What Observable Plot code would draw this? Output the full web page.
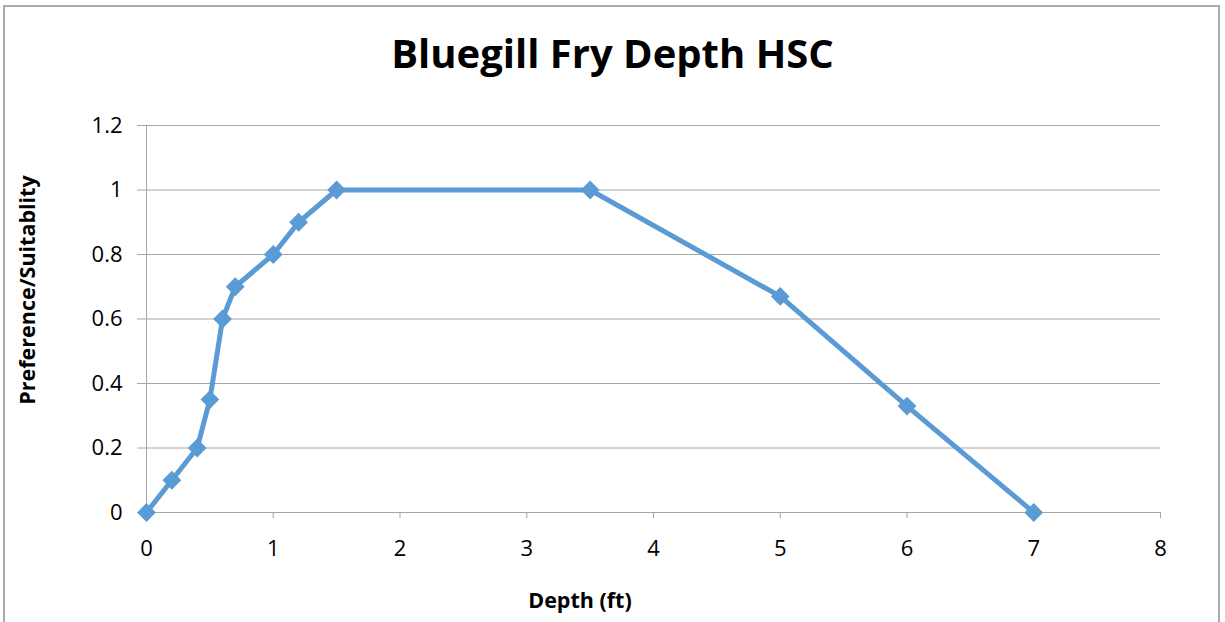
<!DOCTYPE html>
<html>
<head>
<meta charset="utf-8">
<script src="https://cdn.jsdelivr.net/npm/d3@7"></script>
<script src="https://cdn.jsdelivr.net/npm/@observablehq/plot@0.6"></script>
<style>
  body { margin: 0; background: #fff; }
  #wrap { position: relative; width: 1225px; height: 622px; overflow: hidden; font-family: "Open Sans", sans-serif; }
  #frame { position: absolute; left: 3px; top: 5px; width: 1217px; height: 640px; border: 2px solid #ababab; box-sizing: border-box; }
  #title { position: absolute; left: 0; width: 1225px; top: 25px; text-align: center; font-weight: bold; font-size: 40px; color: #000; }
  #xlab { position: absolute; left: 430px; width: 300px; top: 585px; text-align: center; font-weight: bold; font-size: 21.5px; }
  #ylab { position: absolute; left: 26px; top: 290px; transform: translate(-50%, -50%) rotate(-90deg); white-space: nowrap; font-weight: bold; font-size: 21.5px; }
  svg { position: absolute; left: 0; top: 0; }
</style>
</head>
<body>
<div id="wrap">
  <div id="frame"></div>
  <div id="title">Bluegill Fry Depth HSC</div>
  <div id="xlab">Depth (ft)</div>
  <div id="ylab">Preference/Suitablity</div>
</div>
<script>
const depth = [0, 0.2, 0.4, 0.5, 0.6, 0.7, 1, 1.2, 1.5, 3.5, 5, 6, 7];
const suitability = [0, 0.1, 0.2, 0.35, 0.6, 0.7, 0.8, 0.9, 1, 1, 0.67, 0.33, 0];
const xTicks = [0, 1, 2, 3, 4, 5, 6, 7, 8];
const yTicks = [0, 0.2, 0.4, 0.6, 0.8, 1, 1.2];

const data = depth.map((d, i) => ({depth: d, value: suitability[i]}));
const color = "#5b9bd5";
const grid = "#a6a6a6";

const chart = Plot.plot({
  width: 1225,
  height: 622,
  marginLeft: 146,
  marginRight: 65,
  marginTop: 125,
  marginBottom: 110,
  style: {fontFamily: "'Open Sans', sans-serif", fontSize: "22px", color: "#000", background: "transparent"},
  x: {domain: [0, 8]},
  y: {domain: [0, 1.2]},
  marks: [
    Plot.gridY(yTicks, {stroke: grid, strokeOpacity: 1, strokeWidth: 1}),
    Plot.axisY(yTicks, {tickSize: 9, stroke: grid, tickPadding: 15, label: null, tickFormat: d => String(d), fill: "#000", fontSize: 22}),
    Plot.axisX(xTicks, {tickSize: 6, stroke: grid, tickPadding: 22, label: null, tickFormat: d => String(d), fill: "#000", fontSize: 22}),
    Plot.ruleX([0], {stroke: grid, strokeWidth: 1}),
    Plot.ruleY([0], {stroke: grid, strokeWidth: 1}),
    Plot.line(data, {x: "depth", y: "value", stroke: color, strokeWidth: 5, strokeLinejoin: "round"}),
    Plot.dot(data, {x: "depth", y: "value", symbol: "square", r: 7.5, rotate: 45, fill: color, stroke: "none"})
  ]
});
document.getElementById("wrap").appendChild(chart);
</script>
</body>
</html>
